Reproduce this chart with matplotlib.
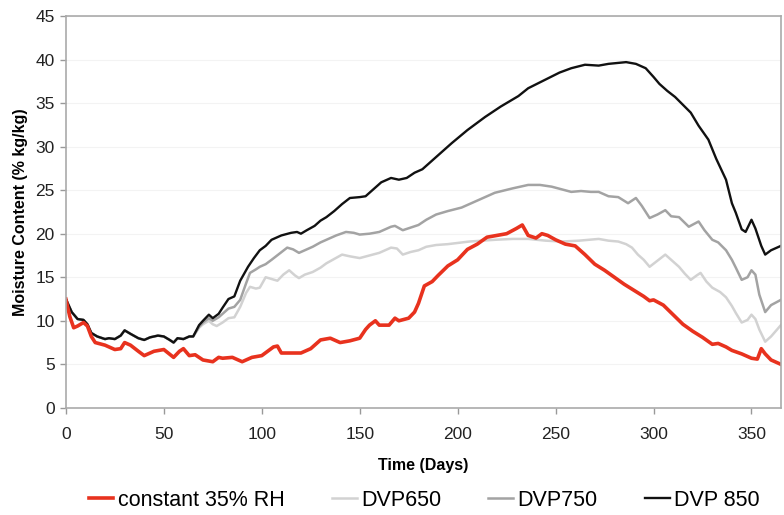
import matplotlib.pyplot as plt

plt.rcParams['font.family'] = ['Liberation Sans', 'DejaVu Sans']

# constant 35% RH
days_red = [0, 2, 4, 6, 9, 11, 13, 15, 20, 25, 28, 30, 33, 37, 40, 45, 50, 55, 58, 60,
            63, 66, 70, 75, 78, 80, 85, 90, 95, 100, 103, 106, 108, 110, 115, 120, 125,
            130, 135, 140, 145, 150, 153, 155, 158, 160, 165, 168, 170, 175, 178, 180,
            183, 187, 190, 195, 200, 205, 210, 215, 220, 225, 230, 233, 236, 240, 243,
            246, 250, 255, 260, 265, 270, 275, 280, 285, 290, 295, 298, 300, 305, 310,
            315, 320, 325, 330, 333, 337, 340, 345, 350, 353, 355, 357, 360, 365]
mc_red = [12.5, 10.5, 9.2, 9.4, 9.8, 9.4, 8.2, 7.5, 7.2, 6.7, 6.8, 7.5, 7.2, 6.5, 6.0,
          6.5, 6.7, 5.8, 6.5, 6.8, 6.0, 6.1, 5.5, 5.3, 5.8, 5.7, 5.8, 5.3, 5.8, 6.0, 6.5,
          7.0, 7.1, 6.3, 6.3, 6.3, 6.8, 7.8, 8.0, 7.5, 7.7, 8.0, 9.0, 9.5, 10.0, 9.5, 9.5,
          10.3, 10.0, 10.3, 11.0, 12.0, 14.0, 14.5, 15.2, 16.3, 17.0, 18.2, 18.8, 19.6,
          19.8, 20.0, 20.6, 21.0, 19.8, 19.5, 20.0, 19.8, 19.3, 18.8, 18.6, 17.6, 16.5,
          15.8, 15.0, 14.2, 13.5, 12.8, 12.3, 12.4, 11.8, 10.7, 9.6, 8.8, 8.1, 7.3, 7.4,
          7.0, 6.6, 6.2, 5.7, 5.6, 6.8, 6.2, 5.5, 5.0]

# DVP 850
days_850 = [0, 3, 6, 9, 11, 13, 16, 20, 22, 25, 28, 30, 33, 37, 40, 43, 47, 50, 53, 55,
            57, 60, 63, 65, 68, 70, 73, 75, 78, 80, 83, 86, 89, 93, 96, 99, 102, 105,
            110, 115, 118, 120, 123, 127, 130, 133, 137, 141, 145, 150, 153, 157, 161,
            166, 170, 174, 178, 182, 185, 190, 197, 205, 214, 222, 231, 236, 244, 252,
            258, 265, 272, 277, 286, 291, 296, 300, 303, 307, 311, 315, 319, 323, 328,
            332, 337, 340, 342, 345, 347, 350, 352, 355, 357, 360, 365]
mc_850 = [12.5, 11.0, 10.2, 10.1, 9.6, 8.6, 8.2, 7.9, 8.0, 7.9, 8.3, 8.9, 8.5, 8.0, 7.8,
          8.1, 8.3, 8.2, 7.8, 7.5, 8.0, 7.9, 8.2, 8.2, 9.5, 10.0, 10.7, 10.3, 10.8, 11.5,
          12.5, 12.8, 14.6, 16.2, 17.2, 18.1, 18.6, 19.3, 19.8, 20.1, 20.2, 20.0, 20.4,
          20.9, 21.5, 21.9, 22.6, 23.4, 24.1, 24.2, 24.3, 25.1, 25.9, 26.4, 26.2, 26.4,
          27.0, 27.4, 28.0, 29.0, 30.4, 31.9, 33.4, 34.6, 35.8, 36.7, 37.6, 38.5, 39.0,
          39.4, 39.3, 39.5, 39.7, 39.5, 39.0, 38.0, 37.2, 36.4, 35.7, 34.8, 33.9, 32.4,
          30.8, 28.6, 26.2, 23.5, 22.4, 20.5, 20.2, 21.6, 20.6, 18.6, 17.6, 18.1, 18.6]

# DVP750
days_750 = [0, 3, 6, 9, 11, 13, 16, 20, 22, 25, 28, 30, 33, 37, 40, 43, 47, 50, 53, 55,
            57, 60, 63, 65, 68, 70, 73, 75, 78, 80, 83, 86, 89, 92, 94, 97, 99, 102, 105,
            109, 113, 116, 119, 122, 126, 130, 133, 138, 143, 147, 150, 155, 160, 166,
            168, 172, 176, 180, 184, 189, 195, 202, 210, 219, 228, 236, 242, 248, 253,
            258, 263, 268, 272, 277, 282, 287, 291, 294, 298, 302, 306, 309, 313, 318,
            323, 326, 330, 333, 337, 340, 342, 345, 348, 350, 352, 354, 357, 360, 365]
mc_750 = [12.5, 11.0, 10.2, 10.1, 9.6, 8.6, 8.2, 7.9, 8.0, 7.9, 8.3, 8.9, 8.5, 8.0, 7.8,
          8.1, 8.3, 8.2, 7.8, 7.5, 8.0, 7.9, 8.2, 8.2, 9.3, 9.8, 10.3, 10.0, 10.4, 10.8,
          11.4, 11.6, 12.4, 14.3, 15.5, 15.9, 16.2, 16.5, 17.0, 17.7, 18.4, 18.2, 17.8,
          18.1, 18.5, 19.0, 19.3, 19.8, 20.2, 20.1, 19.9, 20.0, 20.2, 20.8, 20.9, 20.4,
          20.7, 21.0, 21.6, 22.2, 22.6, 23.0, 23.8, 24.7, 25.2, 25.6, 25.6, 25.4, 25.1,
          24.8, 24.9, 24.8, 24.8, 24.3, 24.2, 23.5, 24.1, 23.2, 21.8, 22.2, 22.7, 22.0,
          21.9, 20.8, 21.4, 20.4, 19.3, 19.0, 18.1, 17.0, 16.1, 14.7, 15.0, 15.8, 15.3,
          13.0, 11.0, 11.8, 12.4]

# DVP650
days_650 = [0, 3, 6, 9, 11, 13, 16, 20, 22, 25, 28, 30, 33, 37, 40, 43, 47, 50, 53, 55,
            57, 60, 63, 65, 68, 70, 73, 75, 77, 80, 83, 86, 89, 92, 94, 97, 99, 102, 105,
            108, 111, 114, 117, 119, 122, 126, 130, 133, 137, 141, 145, 150, 155, 160,
            166, 169, 172, 176, 180, 184, 189, 195, 206, 219, 228, 236, 245, 253, 262,
            272, 277, 282, 286, 289, 292, 295, 298, 302, 306, 309, 313, 316, 319, 322,
            324, 327, 330, 334, 337, 340, 342, 345, 348, 350, 352, 354, 357, 360, 365]
mc_650 = [12.5, 11.0, 10.2, 10.1, 9.6, 8.6, 8.2, 7.9, 8.0, 7.9, 8.3, 8.9, 8.5, 8.0, 7.8,
          8.1, 8.3, 8.2, 7.8, 7.5, 8.0, 7.9, 8.2, 8.2, 9.2, 9.6, 10.0, 9.6, 9.4, 9.8,
          10.3, 10.4, 11.6, 13.2, 13.9, 13.7, 13.8, 15.0, 14.8, 14.6, 15.3, 15.8, 15.2,
          14.9, 15.3, 15.6, 16.1, 16.6, 17.1, 17.6, 17.4, 17.2, 17.5, 17.8, 18.4, 18.3,
          17.6, 17.9, 18.1, 18.5, 18.7, 18.8, 19.1, 19.3, 19.4, 19.4, 19.2, 19.1, 19.2,
          19.4, 19.2, 19.1, 18.8, 18.4, 17.6, 17.0, 16.2, 16.9, 17.6, 17.0, 16.2, 15.4,
          14.7, 15.2, 15.5, 14.5, 13.8, 13.3, 12.7, 11.7, 10.9, 9.8, 10.1, 10.7, 10.2,
          9.0, 7.6, 8.2, 9.5]

fig = plt.figure(figsize=(7.84, 5.15), dpi=100)
ax = fig.add_axes([0.084, 0.208, 0.912, 0.761])

l650, = ax.plot(days_650, mc_650, color='#d2d2d2', lw=1.8, label='DVP650')
l750, = ax.plot(days_750, mc_750, color='#a3a3a3', lw=1.8, label='DVP750')
l850, = ax.plot(days_850, mc_850, color='#111111', lw=1.7, label='DVP 850')
lred, = ax.plot(days_red, mc_red, color='#e8321e', lw=2.6, label='constant 35% RH')

ax.set_xlim(0, 365)
ax.set_ylim(0, 45)
ax.set_xticks(range(0, 351, 50))
ax.set_yticks(range(0, 46, 5))
ax.tick_params(labelsize=12.5, colors='#999999', labelcolor='#222222', length=4, width=1)
ax.tick_params(axis='x', pad=10)
ax.tick_params(axis='y', pad=4)
ax.yaxis.grid(True, color='#f3f3f3', lw=0.8)
ax.set_axisbelow(True)
for s in ax.spines.values():
    s.set_color('#aaaaaa')
    s.set_linewidth(1.2)

ax.set_xlabel('Time (Days)', fontsize=11.5, fontweight='bold', labelpad=11)
ax.set_ylabel('Moisture Content (% kg/kg)', fontsize=11.5, fontweight='bold', labelpad=5)

fig.legend(handles=[lred, l650, l750, l850], loc='center', bbox_to_anchor=(0.541, 0.029),
           ncol=4, frameon=False, fontsize=15.5, handlelength=1.15, handletextpad=0.2,
           columnspacing=2.2)

fig.savefig('out.png', dpi=100)
